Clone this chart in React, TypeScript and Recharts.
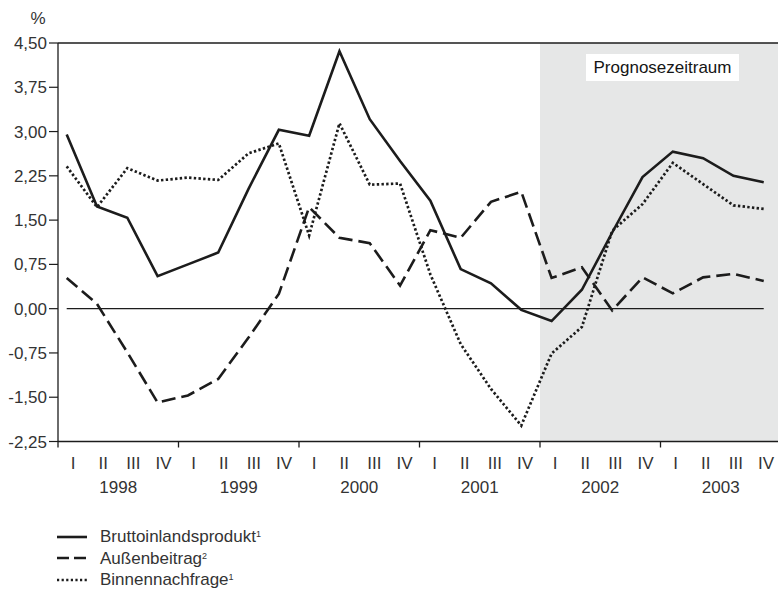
import React from 'react';
import { LineChart, Line, XAxis, YAxis, ReferenceArea, ReferenceLine } from 'recharts';

const years = ['1998', '1999', '2000', '2001', '2002', '2003'];
const quarterNames = ['I', 'II', 'III', 'IV'];

// Veränderung gegenüber Vorjahresquartal in %
const bruttoinlandsprodukt = [2.95, 1.73, 1.54, 0.55, 0.75, 0.95, 2.03, 3.03, 2.93, 4.36, 3.21, 2.5, 1.83, 0.67, 0.43, -0.02, -0.21, 0.32, 1.29, 2.23, 2.66, 2.55, 2.25, 2.14];
const aussenbeitrag = [0.52, 0.08, -0.74, -1.59, -1.47, -1.19, -0.49, 0.25, 1.72, 1.2, 1.11, 0.39, 1.33, 1.2, 1.81, 1.98, 0.52, 0.7, -0.03, 0.53, 0.26, 0.53, 0.59, 0.47];
const binnennachfrage = [2.41, 1.72, 2.38, 2.17, 2.22, 2.18, 2.63, 2.8, 1.24, 3.14, 2.1, 2.12, 0.58, -0.6, -1.36, -1.98, -0.76, -0.31, 1.32, 1.77, 2.47, 2.11, 1.75, 1.69];

const yTicks = [-2.25, -1.5, -0.75, 0, 0.75, 1.5, 2.25, 3, 3.75, 4.5];
const forecastStart = 16; // 2002 I

const quarterLabels = years.flatMap(() => quarterNames);
const data = bruttoinlandsprodukt.map((v, i) => ({
  idx: i,
  bip: v,
  aussen: aussenbeitrag[i],
  binnen: binnennachfrage[i],
}));

const boundaryTicks = years.map((_, i) => i * 4);
const quarterTicks = quarterLabels.map((_, i) => i + 0.5);
const qTicks = [...boundaryTicks, ...quarterTicks].sort((a, b) => a - b);
const yearTicks = years.map((_, i) => i * 4 + 2);

const INK = '#1c1c1c';
const TEXT = '#333';
const FONT = '"Liberation Sans", Arial, sans-serif';

const fmt = (v: number) => v.toFixed(2).replace('.', ',');

const QuarterTick = (props: any) => {
  const { x, y, payload } = props;
  const v = payload.value;
  if (v % 1 === 0) {
    return <line x1={x} x2={x} y1={y} y2={y + 6} stroke={INK} strokeWidth={1.3} />;
  }
  return (
    <text x={x} y={y + 22} textAnchor="middle" dominantBaseline="central" fontSize={17} fill={TEXT} fontFamily={FONT}>
      {quarterLabels[Math.floor(v)]}
    </text>
  );
};

const YearTick = (props: any) => {
  const { x, y, payload } = props;
  return (
    <text x={x} y={y + 11.5} textAnchor="middle" dominantBaseline="central" fontSize={17} fill={TEXT} fontFamily={FONT}>
      {years[(payload.value - 2) / 4]}
    </text>
  );
};

const ForecastLabel = (props: any) => {
  const { x, y, width } = props.viewBox;
  const cx = x + width / 2 + 2;
  const top = y + 11;
  return (
    <g>
      <rect x={cx - 76.5} y={top} width={153} height={27} fill="#fff" />
      <text x={cx} y={top + 13.5} textAnchor="middle" dominantBaseline="central" fontSize={17} fill="#151515" fontFamily={FONT}>
        Prognosezeitraum
      </text>
    </g>
  );
};

const UnitLabel = (props: any) => {
  const { x, y, width } = props.viewBox;
  return (
    <text x={x + width - 20} y={y - 25} textAnchor="middle" dominantBaseline="central" fontSize={17} fill={TEXT} fontFamily={FONT}>
      %
    </text>
  );
};

const legendItems = [
  { name: 'Bruttoinlandsprodukt', note: '1', dash: undefined as string | undefined, width: 2.6 },
  { name: 'Außenbeitrag', note: '2', dash: '12 5', width: 2.6 },
  { name: 'Binnennachfrage', note: '1', dash: '2.2 2.4', width: 2.4 },
];

export default function App() {
  return (
    <div style={{ position: 'absolute', left: 0, top: 0, width: 778, height: 592, overflow: 'hidden', background: '#fff', fontFamily: FONT }}>
      <LineChart width={781} height={592} data={data} margin={{ top: 43, right: 0, bottom: 92.5, left: 0 }}>
        <XAxis
          xAxisId="q"
          dataKey="idx"
          type="number"
          domain={[0, 24]}
          allowDataOverflow
          ticks={qTicks}
          interval={0}
          tickSize={0}
          tickMargin={0}
          tickLine={false}
          axisLine={{ stroke: INK, strokeWidth: 1.3 }}
          tick={QuarterTick}
          height={34}
        />
        <XAxis
          xAxisId="yr"
          dataKey="idx"
          type="number"
          domain={[0, 24]}
          allowDataOverflow
          ticks={yearTicks}
          interval={0}
          tickSize={0}
          tickMargin={0}
          tickLine={false}
          axisLine={false}
          tick={YearTick}
          height={24}
        />
        <XAxis xAxisId="d" dataKey="idx" type="number" domain={[-0.287, 23.57]} allowDataOverflow hide height={0} />
        <YAxis
          type="number"
          domain={[-2.25, 4.5]}
          ticks={yTicks}
          interval={0}
          width={58}
          tickSize={9}
          tickMargin={2}
          tickFormatter={fmt}
          axisLine={{ stroke: INK, strokeWidth: 1.3 }}
          tickLine={{ stroke: INK, strokeWidth: 1.2 }}
          tick={{ fill: TEXT, fontSize: 17, fontFamily: FONT }}
          label={<UnitLabel />}
        />
        <ReferenceArea
          xAxisId="q"
          x1={forecastStart}
          x2={24}
          fill="#e6e7e7"
          fillOpacity={1}
          stroke="none"
          label={<ForecastLabel />}
        />
        <ReferenceLine xAxisId="q" y={4.5} stroke={INK} strokeWidth={1.3} />
        <ReferenceLine
          xAxisId="d"
          segment={[{ x: 0, y: 0 }, { x: data.length - 1, y: 0 }]}
          stroke={INK}
          strokeWidth={1.2}
        />
        <Line xAxisId="d" type="linear" dataKey="aussen" stroke={INK} strokeWidth={2.6} strokeDasharray="14 6" dot={false} isAnimationActive={false} />
        <Line xAxisId="d" type="linear" dataKey="binnen" stroke={INK} strokeWidth={2.7} strokeDasharray="2.4 2.3" dot={false} isAnimationActive={false} />
        <Line xAxisId="d" type="linear" dataKey="bip" stroke={INK} strokeWidth={2.6} dot={false} isAnimationActive={false} />
      </LineChart>

      <div style={{ position: 'absolute', left: 57, top: 526 }}>
        {legendItems.map(item => (
          <div key={item.name} style={{ display: 'flex', alignItems: 'center', height: 21.5 }}>
            <svg width={30} height={10}>
              <line x1={0} x2={30} y1={5} y2={5} stroke={INK} strokeWidth={item.width} strokeDasharray={item.dash} />
            </svg>
            <span style={{ marginLeft: 13, fontSize: 17, color: TEXT, lineHeight: '21px' }}>
              {item.name}
              <sup style={{ fontSize: 9, verticalAlign: 'top', position: 'relative', top: -2 }}>{item.note}</sup>
            </span>
          </div>
        ))}
      </div>
    </div>
  );
}
